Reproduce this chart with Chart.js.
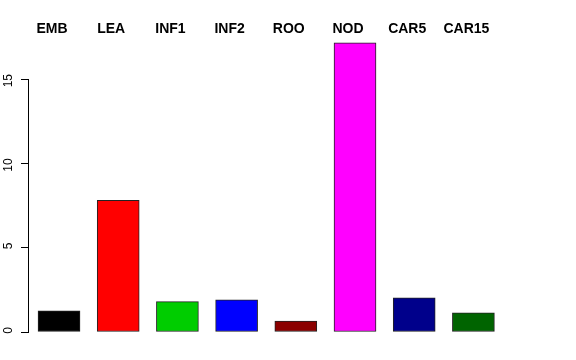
<!DOCTYPE html>
<html><head><meta charset="utf-8">
<script src="https://cdn.jsdelivr.net/npm/chart.js@4"></script>
<style>html,body{margin:0;padding:0;background:#fff}#wrap{width:576px;height:360px}</style>
</head><body><div id="wrap"><canvas id="c" width="576" height="360"></canvas></div>
<script>
const categories = ["EMB","LEA","INF1","INF2","ROO","NOD","CAR5","CAR15"];
const values = [1.25, 7.8, 1.8, 1.9, 0.65, 17.15, 2.02, 1.13];
const barColors = ["#000000","#FF0000","#00CD00","#0000FF","#8B0000","#FF00FF","#00008B","#006400"];
const yTicks = [0, 5, 10, 15];

const topLabels = {
  id: 'topLabels',
  afterDraw(chart) {
    const ctx = chart.ctx;
    const xs = chart.scales.x;
    ctx.save();
    ctx.font = 'bold 14px "Liberation Sans", Arial, sans-serif';
    ctx.fillStyle = '#000';
    ctx.textAlign = 'center';
    ctx.textBaseline = 'middle';
    categories.forEach((c, i) => {
      ctx.fillText(c, xs.getPixelForValue(i) - 7, 29.5);
    });
    ctx.restore();
  }
};

new Chart(document.getElementById('c'), {
  type: 'bar',
  data: {
    datasets: [{
      data: values.map((v, i) => ({ x: i, y: v })),
      backgroundColor: barColors,
      borderColor: '#222222',
      borderWidth: 1,
      borderSkipped: false,
      barThickness: 42,
      clip: false
    }]
  },
  options: {
    responsive: false,
    animation: false,
    layout: { padding: { top: 79, right: 73, bottom: 28, left: 0 } },
    plugins: { legend: { display: false }, tooltip: { enabled: false } },
    scales: {
      x: { type: 'linear', display: false, min: -0.524, max: 7.5, offset: false },
      y: {
        min: 0, max: 15,
        afterFit(s) { s.width = 28; },
        afterBuildTicks(s) { s.ticks = yTicks.map(v => ({ value: v })); },
        border: { display: true, color: '#000', width: 1 },
        grid: { drawOnChartArea: false, tickLength: 7, color: '#000' },
        ticks: {
          minRotation: 90, maxRotation: 90,
          padding: 12,
          labelOffset: -5,
          color: '#000',
          font: { family: '"Liberation Sans", Arial, sans-serif', size: 12 }
        }
      }
    }
  },
  plugins: [topLabels]
});
</script></body></html>
